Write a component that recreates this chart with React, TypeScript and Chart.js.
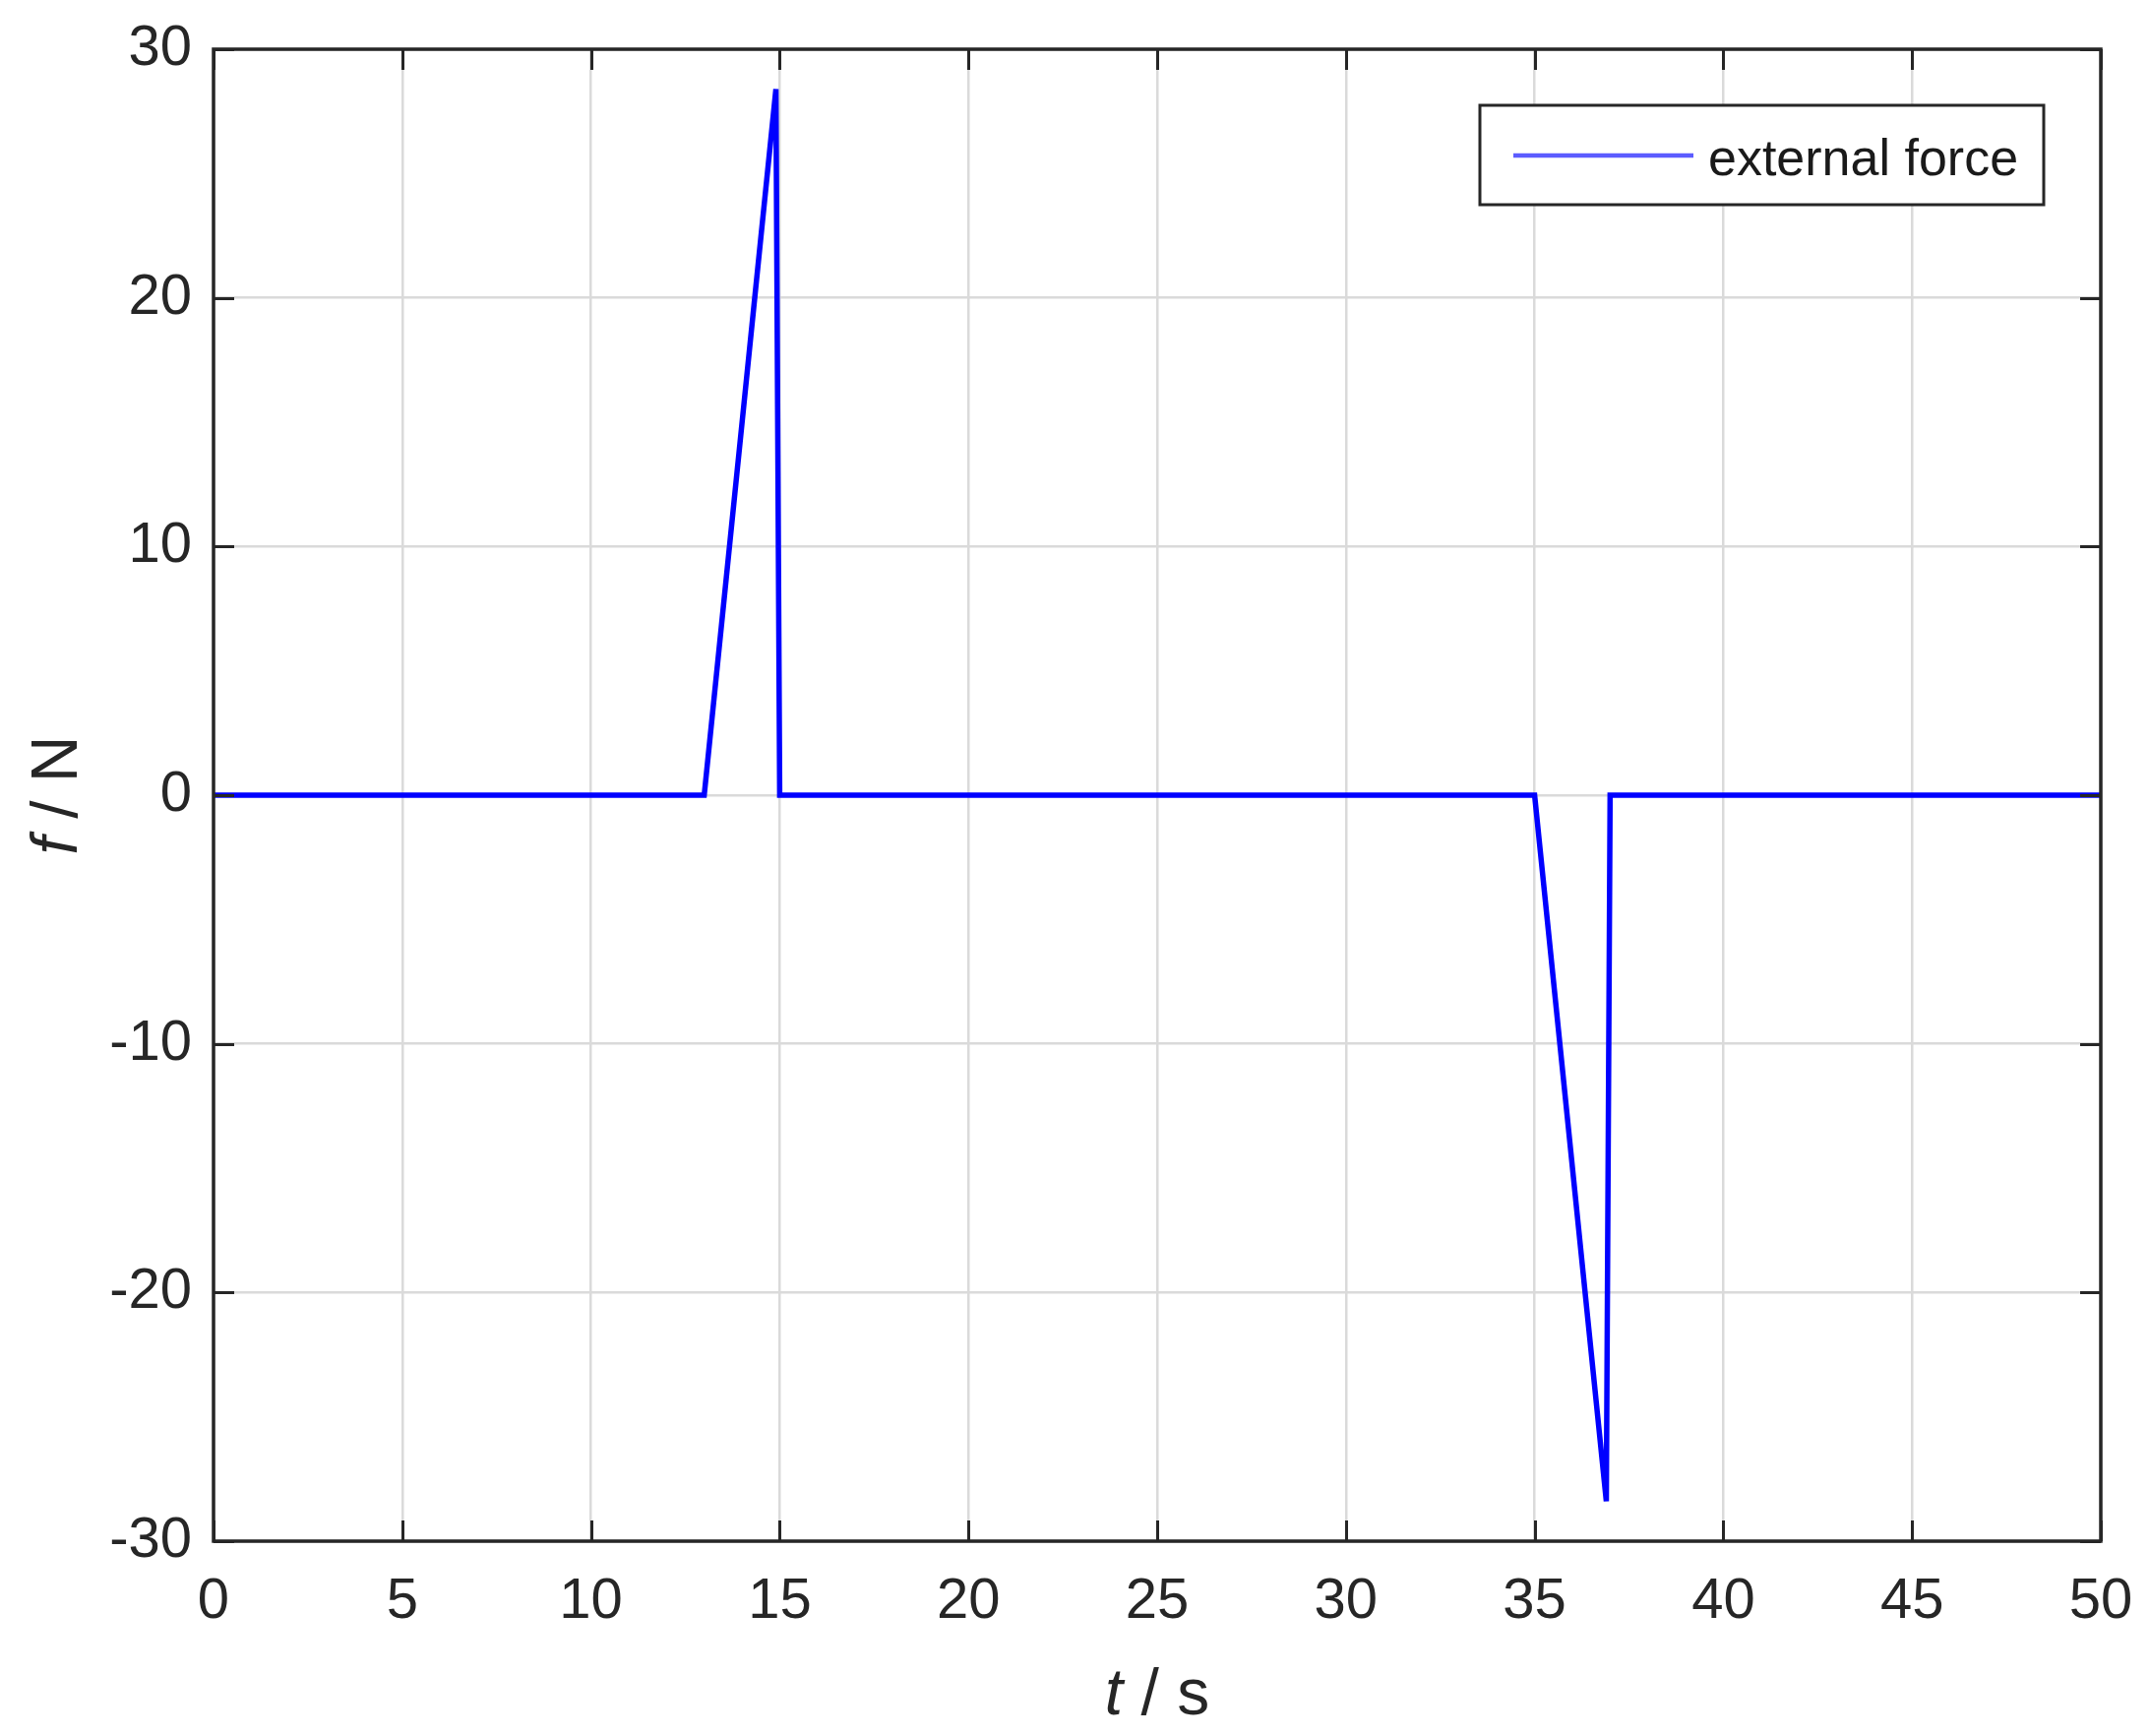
import React, { useEffect, useRef } from "react";
import { Chart, registerables } from "chart.js";

Chart.register(...registerables);

// ---- data ----
const timeS = [0, 13, 14.9, 15, 35, 36.9, 37, 50];
const forceN = [0, 0, 28.4, 0, 0, -28.4, 0, 0];
const seriesLabel = "external force";
const xTickValues = [0, 5, 10, 15, 20, 25, 30, 35, 40, 45, 50];
const yTickValues = [-30, -20, -10, 0, 10, 20, 30];
const xTitleParts = ["t", " / s"]; // first part italic
const yTitleParts = ["f", " / N"]; // first part italic

const FONT = "'Liberation Sans', Arial, Helvetica, sans-serif";
const INK = "#262626";

const framePlugin = {
  id: "matlabFrame",
  afterDatasetsDraw(chart: any) {
    const { ctx, chartArea, scales } = chart;
    const { left, right, top, bottom } = chartArea;
    const xs = scales.x;
    const ys = scales.y;
    ctx.save();
    ctx.strokeStyle = INK;
    ctx.lineWidth = 3;
    const L = 21;
    ctx.beginPath();
    xTickValues.forEach((v) => {
      const px = Math.round(xs.getPixelForValue(v)) + 0.5;
      ctx.moveTo(px, bottom);
      ctx.lineTo(px, bottom - L);
      ctx.moveTo(px, top);
      ctx.lineTo(px, top + L);
    });
    yTickValues.forEach((v) => {
      const py = Math.round(ys.getPixelForValue(v)) + 0.5;
      ctx.moveTo(left, py);
      ctx.lineTo(left + L, py);
      ctx.moveTo(right, py);
      ctx.lineTo(right - L, py);
    });
    ctx.stroke();
    ctx.lineWidth = 3.5;
    ctx.strokeRect(left, top, right - left, bottom - top);
    ctx.restore();
  },
  afterDraw(chart: any) {
    const { ctx, chartArea } = chart;
    const { left, right, top, bottom } = chartArea;
    ctx.save();
    ctx.fillStyle = INK;
    ctx.textBaseline = "alphabetic";

    // x title
    const tsize = 66;
    const italic = `italic ${tsize}px ${FONT}`;
    const normal = `${tsize}px ${FONT}`;
    ctx.font = italic;
    const w1 = ctx.measureText(xTitleParts[0]).width;
    ctx.font = normal;
    const w2 = ctx.measureText(xTitleParts[1]).width;
    const cx = (left + right) / 2;
    const sx = cx - (w1 + w2) / 2;
    ctx.textAlign = "left";
    ctx.font = italic;
    ctx.fillText(xTitleParts[0], sx, 1742);
    ctx.font = normal;
    ctx.fillText(xTitleParts[1], sx + w1, 1742);

    // y title (rotated)
    ctx.font = italic;
    const v1 = ctx.measureText(yTitleParts[0]).width;
    ctx.font = normal;
    const v2 = ctx.measureText(yTitleParts[1]).width;
    const cy = (top + bottom) / 2;
    ctx.save();
    ctx.translate(78, cy);
    ctx.rotate(-Math.PI / 2);
    const sy = -(v1 + v2) / 2;
    ctx.font = italic;
    ctx.fillText(yTitleParts[0], sy, 0);
    ctx.font = normal;
    ctx.fillText(yTitleParts[1], sy + v1, 0);
    ctx.restore();

    // legend
    const bx = 1504, by = 107, bw = 573, bh = 101;
    ctx.fillStyle = "#ffffff";
    ctx.fillRect(bx, by, bw, bh);
    ctx.strokeStyle = INK;
    ctx.lineWidth = 3;
    ctx.strokeRect(bx, by, bw, bh);
    ctx.strokeStyle = "#5c5cff";
    ctx.lineWidth = 4.5;
    ctx.beginPath();
    ctx.moveTo(1538, 158);
    ctx.lineTo(1721, 158);
    ctx.stroke();
    const label = chart.data.datasets[0].label;
    ctx.fillStyle = "#1a1a1a";
    ctx.font = `52px ${FONT}`;
    ctx.textAlign = "left";
    ctx.fillText(label, 1736, 178);

    ctx.restore();
  },
};

export default function App() {
  const canvasRef = useRef<HTMLCanvasElement | null>(null);

  useEffect(() => {
    document.body.style.margin = "0";
    const canvas = canvasRef.current;
    if (!canvas) return;
    const tickFont = { family: FONT, size: 58 };
    const chart = new Chart(canvas, {
      type: "line",
      data: {
        datasets: [
          {
            label: seriesLabel,
            data: timeS.map((t, i) => ({ x: t, y: forceN[i] })),
            borderColor: "#0000ff",
            borderWidth: 5.5,
            pointRadius: 0,
            tension: 0,
            fill: false,
          },
        ],
      },
      options: {
        animation: false,
        responsive: false,
        devicePixelRatio: 1,
        layout: { padding: { left: 0, top: 50, right: 49, bottom: 0 } },
        plugins: {
          legend: { display: false },
          tooltip: { enabled: false },
          title: { display: false },
        },
        scales: {
          x: {
            type: "linear",
            min: 0,
            max: 50,
            afterBuildTicks: (scale: any) => {
              scale.ticks = xTickValues.map((v) => ({ value: v }));
            },
            afterFit: (scale: any) => {
              scale.height = 198;
            },
            ticks: {
              font: tickFont,
              color: INK,
              padding: 0,
              maxRotation: 0,
              autoSkip: false,
            },
            grid: {
              color: "#dadada",
              lineWidth: 2.5,
              drawTicks: true,
              tickLength: 27,
              tickColor: "rgba(0,0,0,0)",
            },
            border: { display: false },
          },
          y: {
            type: "linear",
            min: -30,
            max: 30,
            afterBuildTicks: (scale: any) => {
              scale.ticks = yTickValues.map((v) => ({ value: v }));
            },
            afterFit: (scale: any) => {
              scale.width = 217;
            },
            ticks: {
              font: tickFont,
              color: INK,
              padding: 0,
              autoSkip: false,
            },
            grid: {
              color: "#dadada",
              lineWidth: 2.5,
              drawTicks: true,
              tickLength: 22,
              tickColor: "rgba(0,0,0,0)",
            },
            border: { display: false },
          },
        },
      },
      plugins: [framePlugin],
    });
    return () => chart.destroy();
  }, []);

  return (
    <div style={{ position: "absolute", left: 0, top: 0, width: 2184, height: 1764, background: "#ffffff" }}>
      <canvas ref={canvasRef} width={2184} height={1764} style={{ display: "block" }} />
    </div>
  );
}
